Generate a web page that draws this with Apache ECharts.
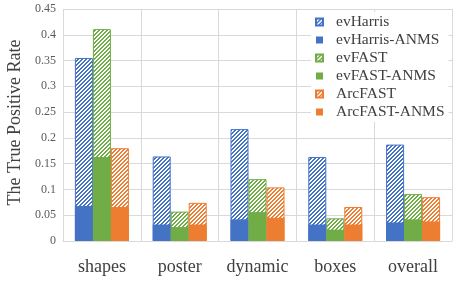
<!DOCTYPE html>
<html><head><meta charset="utf-8">
<script src="https://cdn.jsdelivr.net/npm/echarts@6/dist/echarts.min.js"></script>
<style>html,body{margin:0;padding:0;background:#fff}#c{width:459px;height:284px}</style>
</head><body><div id="c"></div>
<script>
const categories = ['shapes', 'poster', 'dynamic', 'boxes', 'overall'];
const evHarris = [0.355, 0.164, 0.217, 0.163, 0.187];
const evHarrisANMS = [0.068, 0.032, 0.042, 0.032, 0.036];
const evFAST = [0.411, 0.057, 0.120, 0.044, 0.091];
const evFASTANMS = [0.163, 0.027, 0.056, 0.022, 0.042];
const ArcFAST = [0.180, 0.074, 0.104, 0.066, 0.085];
const ArcFASTANMS = [0.066, 0.032, 0.045, 0.032, 0.038];
const yTicks = [0, 0.05, 0.1, 0.15, 0.2, 0.25, 0.3, 0.35, 0.4, 0.45];

const BLUE = '#4472C4', GREEN = '#70AD47', ORANGE = '#ED7D31';

function hatch(col) {
  const n = 4;
  const cv = document.createElement('canvas');
  cv.width = n; cv.height = n;
  const ctx = cv.getContext('2d');
  ctx.fillStyle = '#fff'; ctx.fillRect(0, 0, n, n);
  ctx.fillStyle = col;
  for (let x = 0; x < n; x++) for (let y = 0; y < n; y++) {
    const m = (x + y) % n;
    if (m === 0 || m === 1) ctx.fillRect(x, y, 1, 1);
  }
  return { image: cv, repeat: 'repeat' };
}

const serif = "'Liberation Serif', 'DejaVu Serif', serif";
const barW = 18;

function hatched(name, data, col) {
  return { name, type: 'bar', xAxisIndex: 0, data, barWidth: barW, barGap: '0%', z: 2,
    itemStyle: { color: hatch(col), borderColor: col, borderWidth: 1 } };
}
function solid(name, data, col) {
  return { name, type: 'bar', xAxisIndex: 1, data, barWidth: barW, barGap: '0%', z: 3,
    itemStyle: { color: col } };
}

const chart = echarts.init(document.getElementById('c'), null, { renderer: 'canvas' });
chart.setOption({
  animation: false,
  backgroundColor: '#fff',
  textStyle: { fontFamily: serif },
  grid: { left: 63, right: 7, top: 9, bottom: 43, containLabel: false, outerBoundsMode: 'none' },
  legend: {
    orient: 'vertical', left: 311, top: 12, itemWidth: 7, itemHeight: 7, itemGap: 2,
    icon: 'rect',
    backgroundColor: '#fff', padding: [2, 4, 2, 4],
    data: ['evHarris', 'evHarris-ANMS', 'evFAST', 'evFAST-ANMS', 'ArcFAST', 'ArcFAST-ANMS'],
    textStyle: { fontFamily: serif, fontSize: 15.5, color: '#404040', lineHeight: 15.5, padding: [0, 0, 0, 8] }
  },
  xAxis: [
    { type: 'category', data: categories,
      axisLine: { show: true, lineStyle: { color: '#d9d9d9', width: 1 } },
      axisTick: { show: false },
      splitLine: { show: true, interval: 0, lineStyle: { color: '#d9d9d9', width: 1 } },
      axisLabel: { interval: 0, fontFamily: serif, fontSize: 18, color: '#404040', margin: 17 } },
    { type: 'category', data: categories, show: false }
  ],
  yAxis: {
    type: 'value', min: 0, max: 0.45, interval: 0.05,
    name: 'The True Positive Rate', nameLocation: 'middle', nameGap: 38,
    nameTextStyle: { fontFamily: serif, fontSize: 18, color: '#404040', padding: [0, 0, 0, 5] },
    axisLine: { show: false }, axisTick: { show: false },
    splitLine: { lineStyle: { color: '#d9d9d9', width: 1 } },
    axisLabel: { fontFamily: serif, fontSize: 12, color: '#595959', margin: 7,
      formatter: v => String(+v.toFixed(2)) }
  },
  series: [
    hatched('evHarris', evHarris, BLUE),
    hatched('evFAST', evFAST, GREEN),
    hatched('ArcFAST', ArcFAST, ORANGE),
    solid('evHarris-ANMS', evHarrisANMS, BLUE),
    solid('evFAST-ANMS', evFASTANMS, GREEN),
    solid('ArcFAST-ANMS', ArcFASTANMS, ORANGE)
  ]
});
</script></body></html>
